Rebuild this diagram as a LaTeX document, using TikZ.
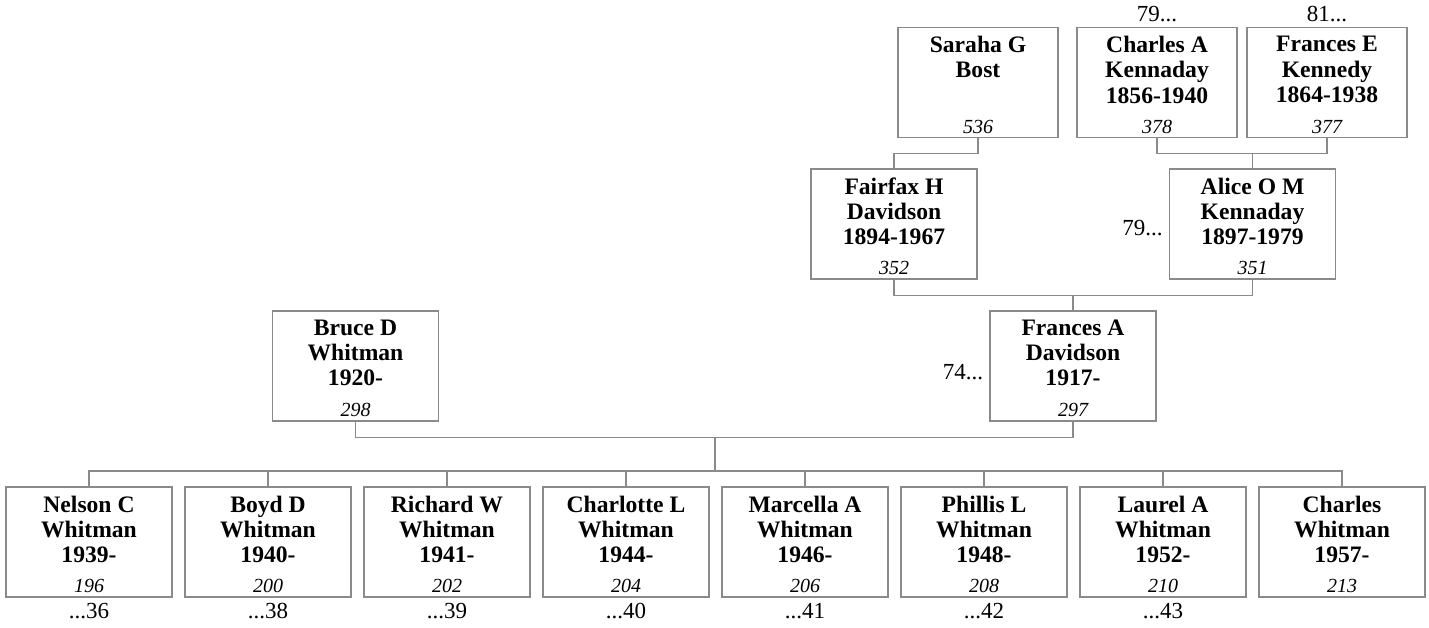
\documentclass[tikz,border=0pt]{standalone}
\usepackage{fontspec}
\setmainfont{Liberation Serif}
\usetikzlibrary{calc}
\definecolor{linec}{RGB}{138,138,138}
\tikzset{
  pbox/.style={draw=linec, line width=0.55pt, minimum width=83pt, minimum height=55pt, inner sep=0pt},
  topbox/.style={pbox, minimum width=80pt},
  nm/.style={font=\fontsize{11.8}{12.6}\selectfont\bfseries, align=center, inner sep=0pt, anchor=north},
  num/.style={font=\fontsize{10}{12}\selectfont\itshape, inner sep=0pt, anchor=base},
  lbl/.style={font=\fontsize{11.5}{13}\selectfont, inner sep=0pt},
  conn/.style={draw=linec, line width=0.55pt},
}
\newcommand{\pers}[5]{%
  \node[#3] (#1) at (#2) {};
  \node[nm] (#1n) at ([yshift=-4.5pt]#1.north) {#4};
  \node[num] (#1i) at ([yshift=2.5pt]#1.south) {#5};
}
\begin{document}
\begin{tikzpicture}[x=0.5pt,y=-0.5pt]
\useasboundingbox (0,0) rectangle (1429,627);
% generation 1
\pers{sarah}{978,82.5}{topbox}{Saraha G\\Bost}{536}
\pers{charlesA}{1157,82.5}{topbox}{Charles A\\Kennaday\\1856-1940}{378}
\pers{francesE}{1327,82.5}{topbox}{Frances E\\Kennedy\\1864-1938}{377}
% generation 2
\pers{fairfax}{894,224}{pbox}{Fairfax H\\Davidson\\1894-1967}{352}
\pers{alice}{1252.5,224}{pbox}{Alice O M\\Kennaday\\1897-1979}{351}
% generation 3
\pers{bruce}{355.5,366}{pbox}{Bruce D\\Whitman\\1920-}{298}
\pers{francesA}{1073,366}{pbox}{Frances A\\Davidson\\1917-}{297}
% children
\pers{c1}{89,542}{pbox}{Nelson C\\Whitman\\1939-}{196}
\pers{c2}{268,542}{pbox}{Boyd D\\Whitman\\1940-}{200}
\pers{c3}{447,542}{pbox}{Richard W\\Whitman\\1941-}{202}
\pers{c4}{626,542}{pbox}{Charlotte L\\Whitman\\1944-}{204}
\pers{c5}{805,542}{pbox}{Marcella A\\Whitman\\1946-}{206}
\pers{c6}{984,542}{pbox}{Phillis L\\Whitman\\1948-}{208}
\pers{c7}{1163,542}{pbox}{Laurel A\\Whitman\\1952-}{210}
\pers{c8}{1342,542}{pbox}{Charles\\Whitman\\1957-}{213}
% extra labels
\node[lbl, anchor=base] (lcA) at ([yshift=2.5pt]charlesA.north) {79...};
\node[lbl, anchor=base] (lfE) at ([yshift=2.5pt]francesE.north) {81...};
\node[lbl, anchor=east] (lal) at ([xshift=-3pt,yshift=-2pt]alice.west) {79...};
\node[lbl, anchor=east] (lfA) at ([xshift=-3pt,yshift=-3pt]francesA.west) {74...};
\node[lbl, anchor=base] (l1) at ([yshift=-10.5pt]c1.south) {...36};
\node[lbl, anchor=base] (l2) at ([yshift=-10.5pt]c2.south) {...38};
\node[lbl, anchor=base] (l3) at ([yshift=-10.5pt]c3.south) {...39};
\node[lbl, anchor=base] (l4) at ([yshift=-10.5pt]c4.south) {...40};
\node[lbl, anchor=base] (l5) at ([yshift=-10.5pt]c5.south) {...41};
\node[lbl, anchor=base] (l6) at ([yshift=-10.5pt]c6.south) {...42};
\node[lbl, anchor=base] (l7) at ([yshift=-10.5pt]c7.south) {...43};
% connectors
\draw[conn] (sarah.south) -- ++(0,15) -| (fairfax.north);
\draw[conn] (charlesA.south) -- ++(0,15) coordinate (cA) -| (francesE.south);
\draw[conn] (alice.north) -- (alice.north |- cA);
\draw[conn] (fairfax.south) -- ++(0,16) coordinate (cB) -| (alice.south);
\draw[conn] (francesA.north) -- (francesA.north |- cB);
\draw[conn] (bruce.south) -- ++(0,16) coordinate (cC) -| (francesA.south);
\coordinate (bus) at (715,471);
\draw[conn] (bus) -- (bus |- cC);
\draw[conn] (c1.north) -- (c1.north |- bus) -| (c8.north);
\foreach \k in {2,...,7} {\draw[conn] (c\k.north) -- (c\k.north |- bus);}
\end{tikzpicture}
\end{document}
